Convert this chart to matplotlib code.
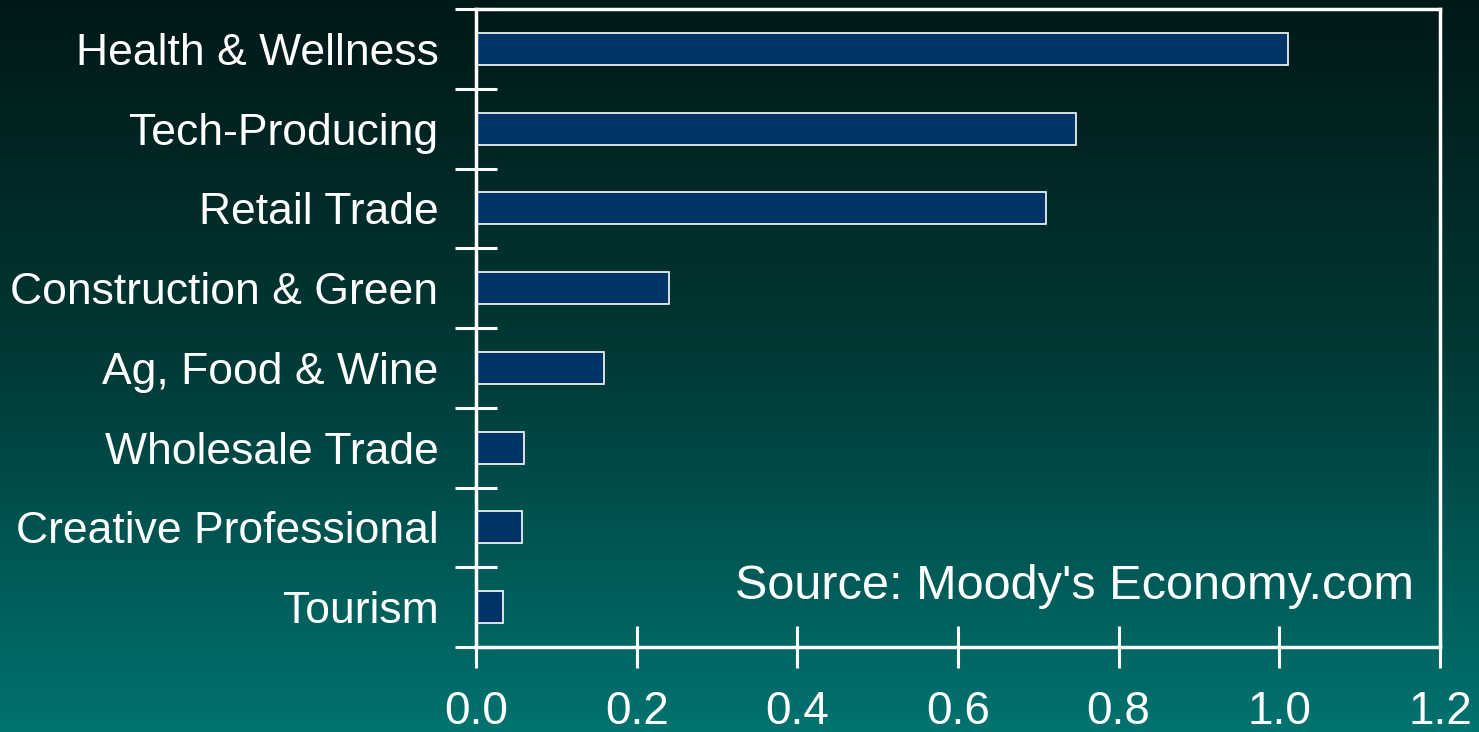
import numpy as np
import matplotlib.pyplot as plt
from matplotlib.colors import LinearSegmentedColormap

# dati
categorie = ["Health & Wellness", "Tech-Producing", "Retail Trade",
             "Construction & Green", "Ag, Food & Wine", "Wholesale Trade",
             "Creative Professional", "Tourism"]
valori = [1.011, 0.747, 0.710, 0.240, 0.159, 0.060, 0.057, 0.034]
xticks = [0.0, 0.2, 0.4, 0.6, 0.8, 1.0, 1.2]
fonte = "Source: Moody's Economy.com"

plt.rcParams['font.family'] = ['Liberation Sans', 'DejaVu Sans']

fig = plt.figure(figsize=(14.79, 7.32), dpi=100)

# sfondo sfumato
bg = fig.add_axes([0, 0, 1, 1])
grad = np.linspace(0, 1, 256).reshape(-1, 1)
cmap_bg = LinearSegmentedColormap.from_list("bg", ["#001818", "#003a36", "#007370"])
bg.imshow(grad, aspect="auto", cmap=cmap_bg, extent=[0, 1, 0, 1], origin="upper")
bg.axis("off")

ax = fig.add_axes([476 / 1479, 85 / 732, 964 / 1479, 638 / 732])
ax.patch.set_alpha(0)

y = np.arange(len(categorie))
ax.barh(y, valori, height=0.4, color="#003366", edgecolor="white", linewidth=1.2)

ax.set_xlim(0, 1.2)
ax.set_ylim(len(categorie) - 0.5, -0.5)

for s in ax.spines.values():
    s.set_color("white")
    s.set_linewidth(2.5)

ax.set_xticks(xticks)
ax.set_xticklabels([f"{v:.1f}" for v in xticks])
ax.tick_params(axis="x", direction="inout", length=30, width=2.2, color="white",
               labelcolor="white", labelsize=33, pad=16)

ax.set_yticks(y)
ax.set_yticklabels(categorie)
ax.tick_params(axis="y", which="major", length=0, labelcolor="white",
               labelsize=32, pad=27)
ax.set_yticks(np.arange(-0.5, len(categorie)), minor=True)
ax.tick_params(axis="y", which="minor", direction="inout", length=30, width=2.2,
               color="white")

ax.text(0.973, 0.095, fonte, transform=ax.transAxes, ha="right", va="center",
        fontsize=35, color="white")

fig.savefig("out.png", dpi=100)
